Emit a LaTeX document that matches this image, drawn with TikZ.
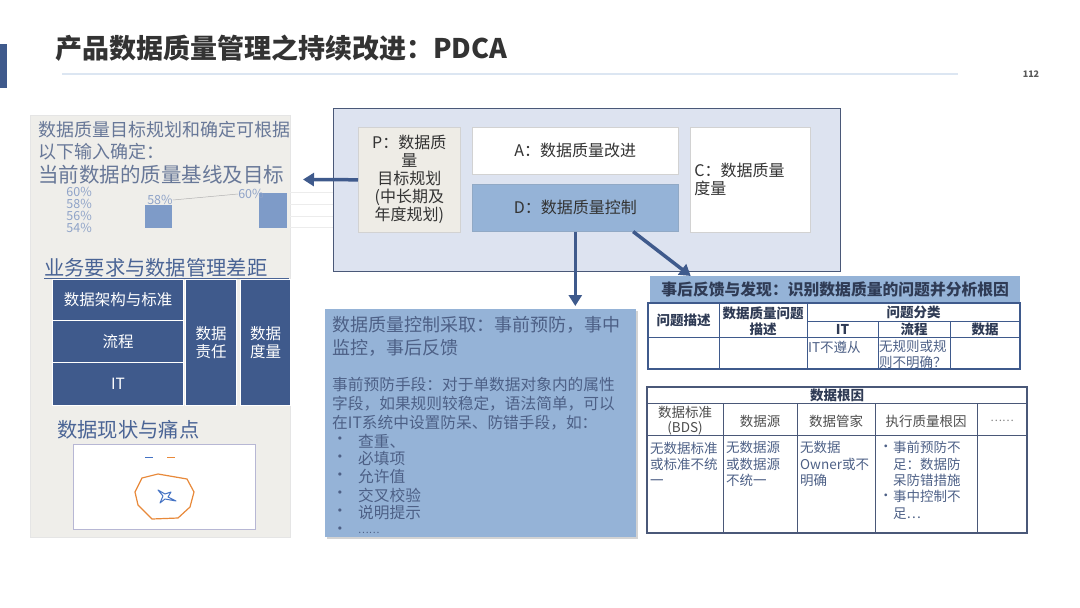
\documentclass[tikz,border=0pt]{standalone}
\usepackage{fontspec}
\setmainfont{Noto Sans CJK SC}
\usepackage{tikz}
\usetikzlibrary{calc,arrows.meta,positioning,shadows}

\definecolor{deepblue}{HTML}{3F5A8C}
\definecolor{skyfill}{HTML}{95B3D7}
\definecolor{lavender}{HTML}{DDE3F0}
\definecolor{panelgray}{HTML}{EFEEEA}
\definecolor{beigecell}{HTML}{EEECE6}
\definecolor{slatetext}{HTML}{4D6086}
\definecolor{headblue}{HTML}{4A6495}
\definecolor{paletext}{HTML}{8FA3C8}
\definecolor{barblue}{HTML}{7E9BC8}
\definecolor{headink}{HTML}{2F3B55}
\definecolor{frameink}{HTML}{4A5878}
\definecolor{ruleblue}{HTML}{DCE6F2}
\definecolor{radarorange}{HTML}{E8893A}
\definecolor{radarblue}{HTML}{4472C4}

\begin{document}
\begin{tikzpicture}[x=1pt,y=-1pt]

% --- STYLES ---
\tikzset{
  panel/.style={fill=panelgray, draw=gray!20, line width=0.6pt, anchor=north west, inner sep=0pt},
  lefthead/.style={anchor=west, text=headblue, inner sep=0pt},
  axislabel/.style={font=\fontsize{12.5}{14}\selectfont, text=paletext, inner sep=0pt},
  bar/.style={fill=barblue, anchor=north west, inner sep=0pt},
  darkcell/.style={fill=deepblue, draw=white, line width=1pt, anchor=north west,
                   text=white, font=\fontsize{15.5}{18.5}\selectfont, align=center, inner sep=0pt},
  pdcacell/.style={draw=gray!35, line width=0.6pt, anchor=north west, inner sep=0pt,
                   font=\fontsize{16}{18}\selectfont, text=black!80, align=center},
  flowarrow/.style={deepblue, line width=3.5pt, -{Triangle[length=11pt,width=13pt]}},
  notetext/.style={anchor=west, text=slatetext, inner sep=0pt, font=\fontsize{15.7}{18.5}\selectfont},
  tablerule/.style={line width=0.9pt},
  tableframe/.style={line width=2pt},
  cellhead/.style={font=\bfseries\fontsize{13.5}{16}\selectfont, text=headink, align=center, inner sep=0pt},
  celltext/.style={font=\fontsize{13.5}{16.3}\selectfont, text=slatetext, align=left, anchor=west, inner sep=0pt},
}

\useasboundingbox (0,0) rectangle (1080,608);

% ================= TITLE =================
\fill[deepblue] (0,44) rectangle (7,88);
\node[anchor=west, font=\bfseries\fontsize{27}{30}\selectfont, text=black!80, inner sep=0pt]
      (title) at (55,48) {产品数据质量管理之持续改进：PDCA};
\draw[ruleblue, line width=2pt] (62,74) -- (958,74);
\node[font=\bfseries\fontsize{9}{10}\selectfont, text=black!65, inner sep=0pt] (pageno) at (1031,74) {112};

% ================= LEFT PANEL =================
\node[panel, minimum width=260pt, minimum height=422pt] (leftpanel) at (30,115) {};

\node[lefthead, font=\fontsize{18}{22}\selectfont, text=slatetext!85, align=left]
      (goalnote) at (38,141) {数据质量目标规划和确定可根据\\以下输入确定：};
\node[lefthead, font=\fontsize{20.5}{24}\selectfont, text=slatetext!85] (baseline) at (38,175) {当前数据的质量基线及目标};

% small bar chart
\foreach \pc/\yy in {60/192, 58/204, 56/216, 54/228} {
    \node[axislabel, anchor=east] (axis\pc) at (92,\yy) {\pc\%};
}
\node[bar, minimum width=27pt, minimum height=23pt] (barnow)  at (145,205) {};
\node[bar, minimum width=28pt, minimum height=35pt] (bargoal) at (259,193) {};
\node[axislabel] (lblnow)  at (160,200) {58\%};
\node[axislabel] (lblgoal) at (251,194) {60\%};
\draw[gray!60, line width=0.5pt] (lblnow.east) -- (lblgoal.west);

% gap section
\node[lefthead, font=\fontsize{20.3}{24}\selectfont] (gaphead) at (44,268) {业务要求与数据管理差距};
\draw[headblue, line width=0.8pt] (44,278) -- (289,278);
\node[darkcell, minimum width=131pt, minimum height=41pt]  (archstd) at (52,279) {数据架构与标准};
\node[darkcell, minimum width=131pt, minimum height=42pt]  (procbox) at (52,320) {流程};
\node[darkcell, minimum width=131pt, minimum height=43pt]  (itbox)   at (52,362) {IT};
\node[darkcell, minimum width=51pt,  minimum height=126pt] (ownbox)  at (185,279) {数据\\责任};
\node[darkcell, minimum width=50pt,  minimum height=126pt] (measbox) at (240,279) {数据\\度量};

% pain point section
\node[lefthead, font=\fontsize{20.3}{24}\selectfont] (painhead) at (57,430) {数据现状与痛点};
\node[fill=white, draw=blue!25!gray!45, line width=0.6pt, anchor=north west,
      minimum width=182pt, minimum height=85pt, inner sep=0pt] (radarframe) at (73,444) {};
\draw[radarblue, line width=0.8pt] (145,457) -- (153,457);
\draw[radarorange, line width=0.8pt] (167,457) -- (175,457);
\draw[radarorange, line width=1.2pt]
     (158,474) -- (187,479) -- (194,492) -- (190,507) -- (178,518)
     -- (152,519) -- (138,505) -- (135,492) -- (142,478) -- cycle;
\draw[radarblue, line width=1pt, line join=round]
     (158,490) -- (165,494) -- (171,492) -- (168,497) -- (176,501)
     -- (165,499) -- (160,503) -- (163,496) -- cycle;

% faint chart grid beyond panel
\foreach \yy in {192, 204, 216, 227} {
    \draw[gray!15, line width=0.6pt] (290,\yy) -- (333,\yy);
}

% ================= PDCA BLOCK =================
\node[fill=lavender, draw=frameink, line width=1.3pt, anchor=north west,
      minimum width=507pt, minimum height=163pt, inner sep=0pt] (pdca) at (333,108) {};

\node[pdcacell, fill=beigecell, minimum width=102pt, minimum height=105pt]
      (pbox) at (358,127) {P：数据质\\量\\目标规划\\(中长期及\\年度规划)};
\node[pdcacell, fill=white, minimum width=206pt, minimum height=47pt]
      (abox) at (472,127) {A：数据质量改进};
\node[pdcacell, fill=skyfill, draw=skyfill!80!gray, minimum width=206pt, minimum height=47pt]
      (dbox) at (472,184) {D：数据质量控制};
\node[pdcacell, fill=white, minimum width=120pt, minimum height=105pt,
      text width=112pt, align=left]
      (cbox) at (690,127) {C：数据质量\\度量};

% ================= CONTROL NOTE =================
\node[fill=skyfill, anchor=north west, minimum width=311pt, minimum height=228pt, inner sep=0pt,
      drop shadow={opacity=0.35, shadow xshift=2pt, shadow yshift=-2pt}]
      (midbox) at (325,309) {};

\node[notetext, font=\fontsize{18}{22}\selectfont] (ctrlline1) at (332,325) {数据质量控制采取：事前预防，事中};
\node[notetext, font=\fontsize{18}{22}\selectfont] (ctrlline2) at (332,348) {监控，事后反馈};
\node[notetext] (preline1) at (332,385) {事前预防手段：对于单数据对象内的属性};
\node[notetext] (preline2) at (332,404) {字段，如果规则较稳定，语法简单，可以};
\node[notetext] (preline3) at (332,423) {在IT系统中设置防呆、防错手段，如：};
\foreach \tip/\yy in {查重、/441, 必填项/459, 允许值/477, 交叉校验/495, 说明提示/513} {
    \node[notetext] (dot\yy) at (332,\yy) {•};
    \node[notetext] (tip\yy) at (358,\yy) {\tip};
}
\node[notetext] (dotmore) at (332,531) {•};
\node[notetext, font=\fontsize{10}{12}\selectfont] (tipmore) at (358,533) {……};

% ================= FEEDBACK TABLE =================
\node[fill=skyfill, anchor=north west, minimum width=370pt, minimum height=27pt, inner sep=0pt,
      font=\bfseries\fontsize{15.8}{18}\selectfont, text=headink]
      (fbtitle) at (650,276) {事后反馈与发现：识别数据质量的问题并分析根因};

\begin{scope}[deepblue]
  \draw[tableframe] (648,303) rectangle (1020,369);
  \draw[tablerule] (807,321) -- (1020,321);
  \draw[tablerule] (648,337) -- (1020,337);
  \draw[tablerule] (719,303) -- (719,369);
  \draw[tablerule] (807,303) -- (807,369);
  \draw[tablerule] (878,321) -- (878,369);
  \draw[tablerule] (950,321) -- (950,369);
\end{scope}

\node[cellhead] (qdesc)   at (683.5,320) {问题描述};
\node[cellhead] (qdetail) at (763,321)   {数据质量问题\\描述};
\node[cellhead] (qclass)  at (913.5,312) {问题分类};
\node[cellhead] (qit)     at (842.5,329) {IT};
\node[cellhead] (qproc)   at (914,329)   {流程};
\node[cellhead] (qdata)   at (985,329)   {数据};
\node[celltext] (itnote)   at (808,347)   {IT不遵从};
\node[celltext] (procnote) at (879,354.5) {无规则或规\\则不明确？};

% ================= ROOT CAUSE TABLE =================
\begin{scope}[frameink]
  \draw[tableframe] (647,387) rectangle (1027,533);
  \draw[tablerule] (647,403) -- (1027,403);
  \draw[tablerule] (647,435) -- (1027,435);
  \foreach \xx in {723, 797, 875, 977} {
      \draw[tablerule] (\xx,403) -- (\xx,533);
  }
\end{scope}

\node[cellhead] (roothead) at (837,395) {数据根因};
\node[cellhead, font=\fontsize{13.5}{15.5}\selectfont, text=black!70] (hstd)   at (685,420.5) {数据标准\\(BDS)};
\node[cellhead, font=\fontsize{13.5}{15.5}\selectfont, text=black!70] (hsrc)   at (760,421) {数据源};
\node[cellhead, font=\fontsize{13.5}{15.5}\selectfont, text=black!70] (hsteward) at (836,421) {数据管家};
\node[cellhead, font=\fontsize{13.5}{15.5}\selectfont, text=black!70] (hexec)  at (926,421) {执行质量根因};
\node[cellhead, font=\fontsize{11}{13}\selectfont, text=black!50] (hmore) at (1002,421) {……};

\node[celltext] (cstd)     at (650,464) {无数据标准\\或标准不统\\一};
\node[celltext] (csrc)     at (726,464) {无数据源\\或数据源\\不统一};
\node[celltext] (csteward) at (800,464) {无数据\\Owner或不\\明确};
\node[celltext] (cdot1)    at (879,448) {•};
\node[celltext] (cexec1)   at (893,464) {事前预防不\\足：数据防\\呆防错措施};
\node[celltext] (cdot2)    at (879,497) {•};
\node[celltext] (cexec2)   at (893,505) {事中控制不\\足…};

% ================= ARROWS =================
\coordinate (ptip) at (303,179.5);
\draw[flowarrow] (pbox.west) -- (ptip);
\draw[flowarrow, shorten >=3pt] (dbox.south) -- (dbox.south |- midbox.north);
\coordinate (dfoot) at ($(dbox.south west)!0.78!(dbox.south east)$);
\coordinate (fbhead) at ($(fbtitle.north west)!0.11!(fbtitle.north east)$);
\draw[flowarrow] (dfoot) -- (fbhead);

\end{tikzpicture}
\end{document}
